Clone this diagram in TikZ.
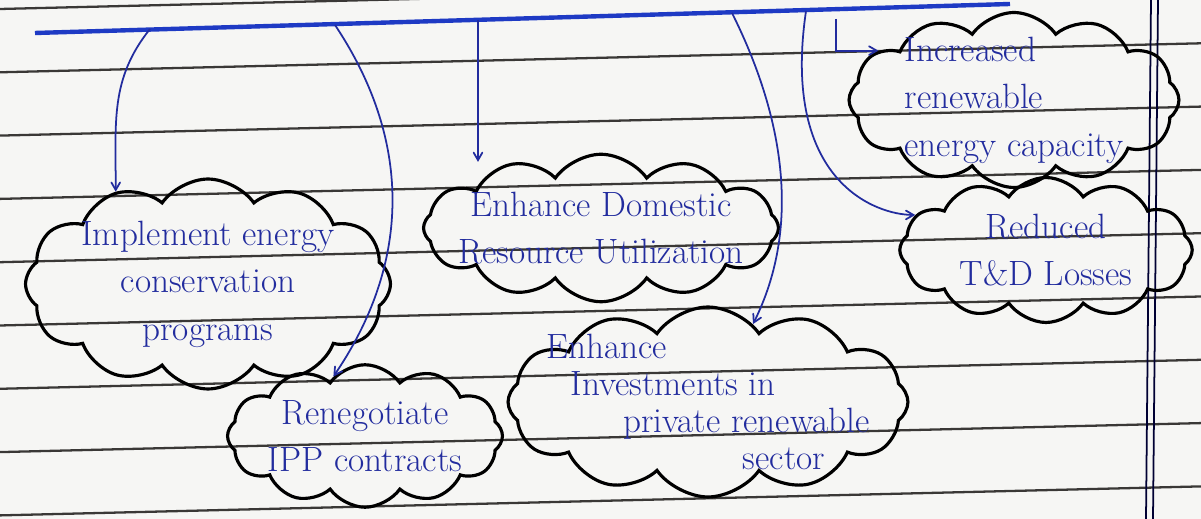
\documentclass[tikz,border=0pt]{standalone}
\usepackage{tikz}
\usetikzlibrary{shapes, arrows, positioning, calc}
\definecolor{ink}{RGB}{34,44,158}
\definecolor{barblue}{RGB}{30,58,196}
\definecolor{rulegray}{RGB}{58,56,54}
\definecolor{paper}{RGB}{246,246,244}
\tikzstyle{idea} = [cloud, cloud puffs=12, cloud puff arc=110, cloud ignores aspect, draw=black, line width=1.8pt, text=ink, align=center, inner xsep=-70pt, inner ysep=-8pt, font=\fontsize{20}{27}\selectfont]
\tikzstyle{connector} = [draw=ink, line width=1pt, -angle 60]
\tikzstyle{topbar} = [draw=barblue, line width=2.5pt]
\tikzstyle{paperline} = [draw=rulegray, line width=1.3pt]
\tikzstyle{marginline} = [draw=black!80!blue, line width=1pt]

\begin{document}
\begin{tikzpicture}[x=0.02cm, y=-0.02cm]
    % Paper
    \fill [paper] (0,0) rectangle (1201,519);
    \useasboundingbox (0,0) rectangle (1201,519);
    \foreach \k in {0,...,8}
        \draw [paperline] (0,{9+63.3*\k}) -- (1201,{-20+63.3*\k});
    \draw [marginline] (1151,0) -- (1146,519);
    \draw [marginline] (1158,0) -- (1153,519);

    % Nodes
    \node [idea, minimum width=7.3cm, minimum height=4.2cm] (impl) at (208,284) {Implement energy\\conservation\\programs};
    \node [idea, minimum width=5.5cm, minimum height=2.85cm] (reneg) at (365,436) {Renegotiate\\IPP contracts};
    \node [idea, minimum width=7.1cm, minimum height=2.95cm] (dom) at (601,228) {Enhance Domestic\\Resource Utilization};
    \node [idea, minimum width=8cm, minimum height=3.8cm, align=left, font=\fontsize{20}{21}\selectfont] (invest) at (708,402) {Enhance\\\hspace{0.7em}Investments in\\\hspace{2.2em}private renewable\\\hspace{5.6em}sector};
    \node [idea, minimum width=6.6cm, minimum height=3.5cm, align=left] (incr) at (1014,100) {Increased\\renewable\\energy capacity};
    \node [idea, minimum width=5.85cm, minimum height=2.9cm] (reduc) at (1046,250) {Reduced\\T\&D Losses};

    % Top bar
    \coordinate (barL) at (35,33);
    \coordinate (barR) at (1010,4);
    \draw [topbar] (barL) -- (barR);
    \coordinate (b1) at (150,29);
    \coordinate (b2) at (335,25);
    \coordinate (b3) at (478,20);
    \coordinate (b4) at (732,13);
    \coordinate (b5) at (806,11);
    \coordinate (b6) at (836,19);

    % Arrows
    \path [connector] (b1) .. controls +(-40,50) and +(0,-70) .. (impl.135);
    \path [connector] (b2) .. controls +(80,120) and +(75,-110) .. (reneg.118);
    \path [connector] (b3) -- (b3 |- dom.140);
    \path [connector] (b4) .. controls +(50,100) and +(50,-100) .. (invest.60);
    \path [connector] (b5) .. controls +(-25,170) and +(-40,0) .. (reduc.165);
    \path [connector] (b6) |- (incr.160);
\end{tikzpicture}
\end{document}
